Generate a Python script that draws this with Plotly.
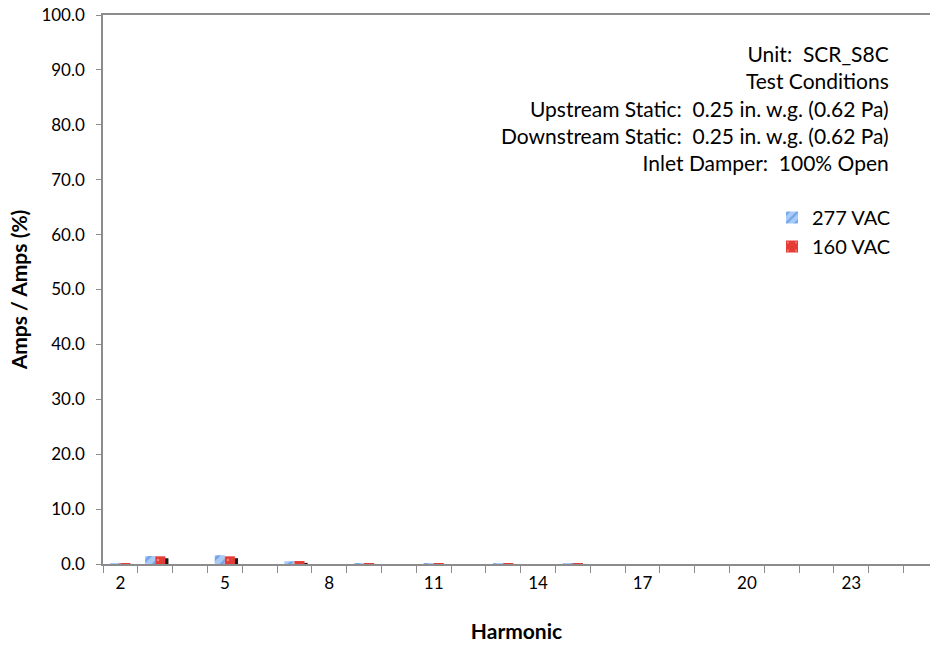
import plotly.graph_objects as go

# Harmonic current content, percent of fundamental
harmonics = list(range(2, 26))
vac_277 = [0.1, 1.45, 0, 1.6, 0, 0.5, 0, 0.1, 0, 0.1, 0, 0.1, 0,
           0.05, 0, 0, 0, 0, 0, 0, 0, 0, 0, 0]
vac_160 = [0.1, 1.4, 0, 1.4, 0, 0.55, 0, 0.1, 0, 0.1, 0, 0.05, 0,
           0.05, 0, 0, 0, 0, 0, 0, 0, 0, 0, 0]
tick_labels = [2, 5, 8, 11, 14, 17, 20, 23]
y_ticks = [0, 10, 20, 30, 40, 50, 60, 70, 80, 90, 100]

info_lines = [
    "Unit:  SCR_S8C",
    "Test Conditions",
    "Upstream Static:  0.25 in. w.g. (0.62 Pa)",
    "Downstream Static:  0.25 in. w.g. (0.62 Pa)",
    "Inlet Damper:  100% Open",
]

FONT = "Lato"
AXIS = "#8c8c8c"
BW = 0.29

fig = go.Figure()

# drop shadow behind the 160 VAC bars
fig.add_trace(go.Bar(
    x=harmonics, y=vac_160, base=-0.35, width=BW, offset=0.09,
    marker=dict(color="rgba(0,0,0,0.9)", line=dict(width=0)),
    showlegend=False, hoverinfo="skip",
))
fig.add_trace(go.Bar(
    x=harmonics, y=vac_277, name="277 VAC", width=BW, offset=-BW,
    marker=dict(color="#a9ccf7", line=dict(width=0),
                pattern=dict(shape="/", fgcolor="#3b7de0", bgcolor="#a9ccf7",
                             size=8, solidity=0.35)),
))
fig.add_trace(go.Bar(
    x=harmonics, y=vac_160, name="160 VAC", width=BW, offset=0,
    marker=dict(color="#e63c36", line=dict(width=0),
                pattern=dict(shape=".", fgcolor="#ffd0cc", bgcolor="#e63c36",
                             size=10, solidity=0.05)),
))

fig.add_annotation(
    xref="x", yref="y", x=25.26 - (930 - 891) / 34.8, y=100 - (39 - 15) / 5.49,
    text="<br>".join(info_lines),
    showarrow=False, align="right", xanchor="right", yanchor="top",
    font=dict(family=FONT, size=21, color="#000000"),
)

fig.update_layout(
    width=930, height=645,
    margin=dict(l=103, r=0, t=15, b=81),
    paper_bgcolor="white", plot_bgcolor="white",
    barmode="overlay",
    font=dict(family=FONT, size=17, color="#000000"),
    showlegend=True,
    legend=dict(x=1 - 34 / 827, y=1 - (198 - 15) / 549, xanchor="right", yanchor="top",
                bgcolor="rgba(0,0,0,0)", font=dict(family=FONT, size=20),
                tracegroupgap=5, itemwidth=30),
    xaxis=dict(
        range=[1.5, 25.26], tickmode="array", tickvals=tick_labels,
        ticktext=[str(t) for t in tick_labels], ticks="",
        showline=True, linecolor=AXIS, linewidth=1.5, mirror=True,
        showgrid=False, zeroline=False, ticklabelstandoff=3,
        tickfont=dict(size=17),
        minor=dict(tick0=1.5, dtick=1, ticks="outside", ticklen=7,
                   tickcolor=AXIS, tickwidth=1.2, showgrid=False),
        title=dict(text="<b>Harmonic</b>", font=dict(family=FONT, size=21), standoff=32),
    ),
    yaxis=dict(
        range=[0, 100], tickmode="array", tickvals=y_ticks, tickformat=".1f",
        ticks="outside", ticklen=5, tickcolor=AXIS, tickwidth=1.2,
        showline=True, linecolor=AXIS, linewidth=1.5, showgrid=False, zeroline=False,
        ticklabelstandoff=8, tickfont=dict(size=17),
        title=dict(text="<b>Amps / Amps (%)</b>", font=dict(family=FONT, size=21), standoff=8),
    ),
)

fig.write_html("out.html")
